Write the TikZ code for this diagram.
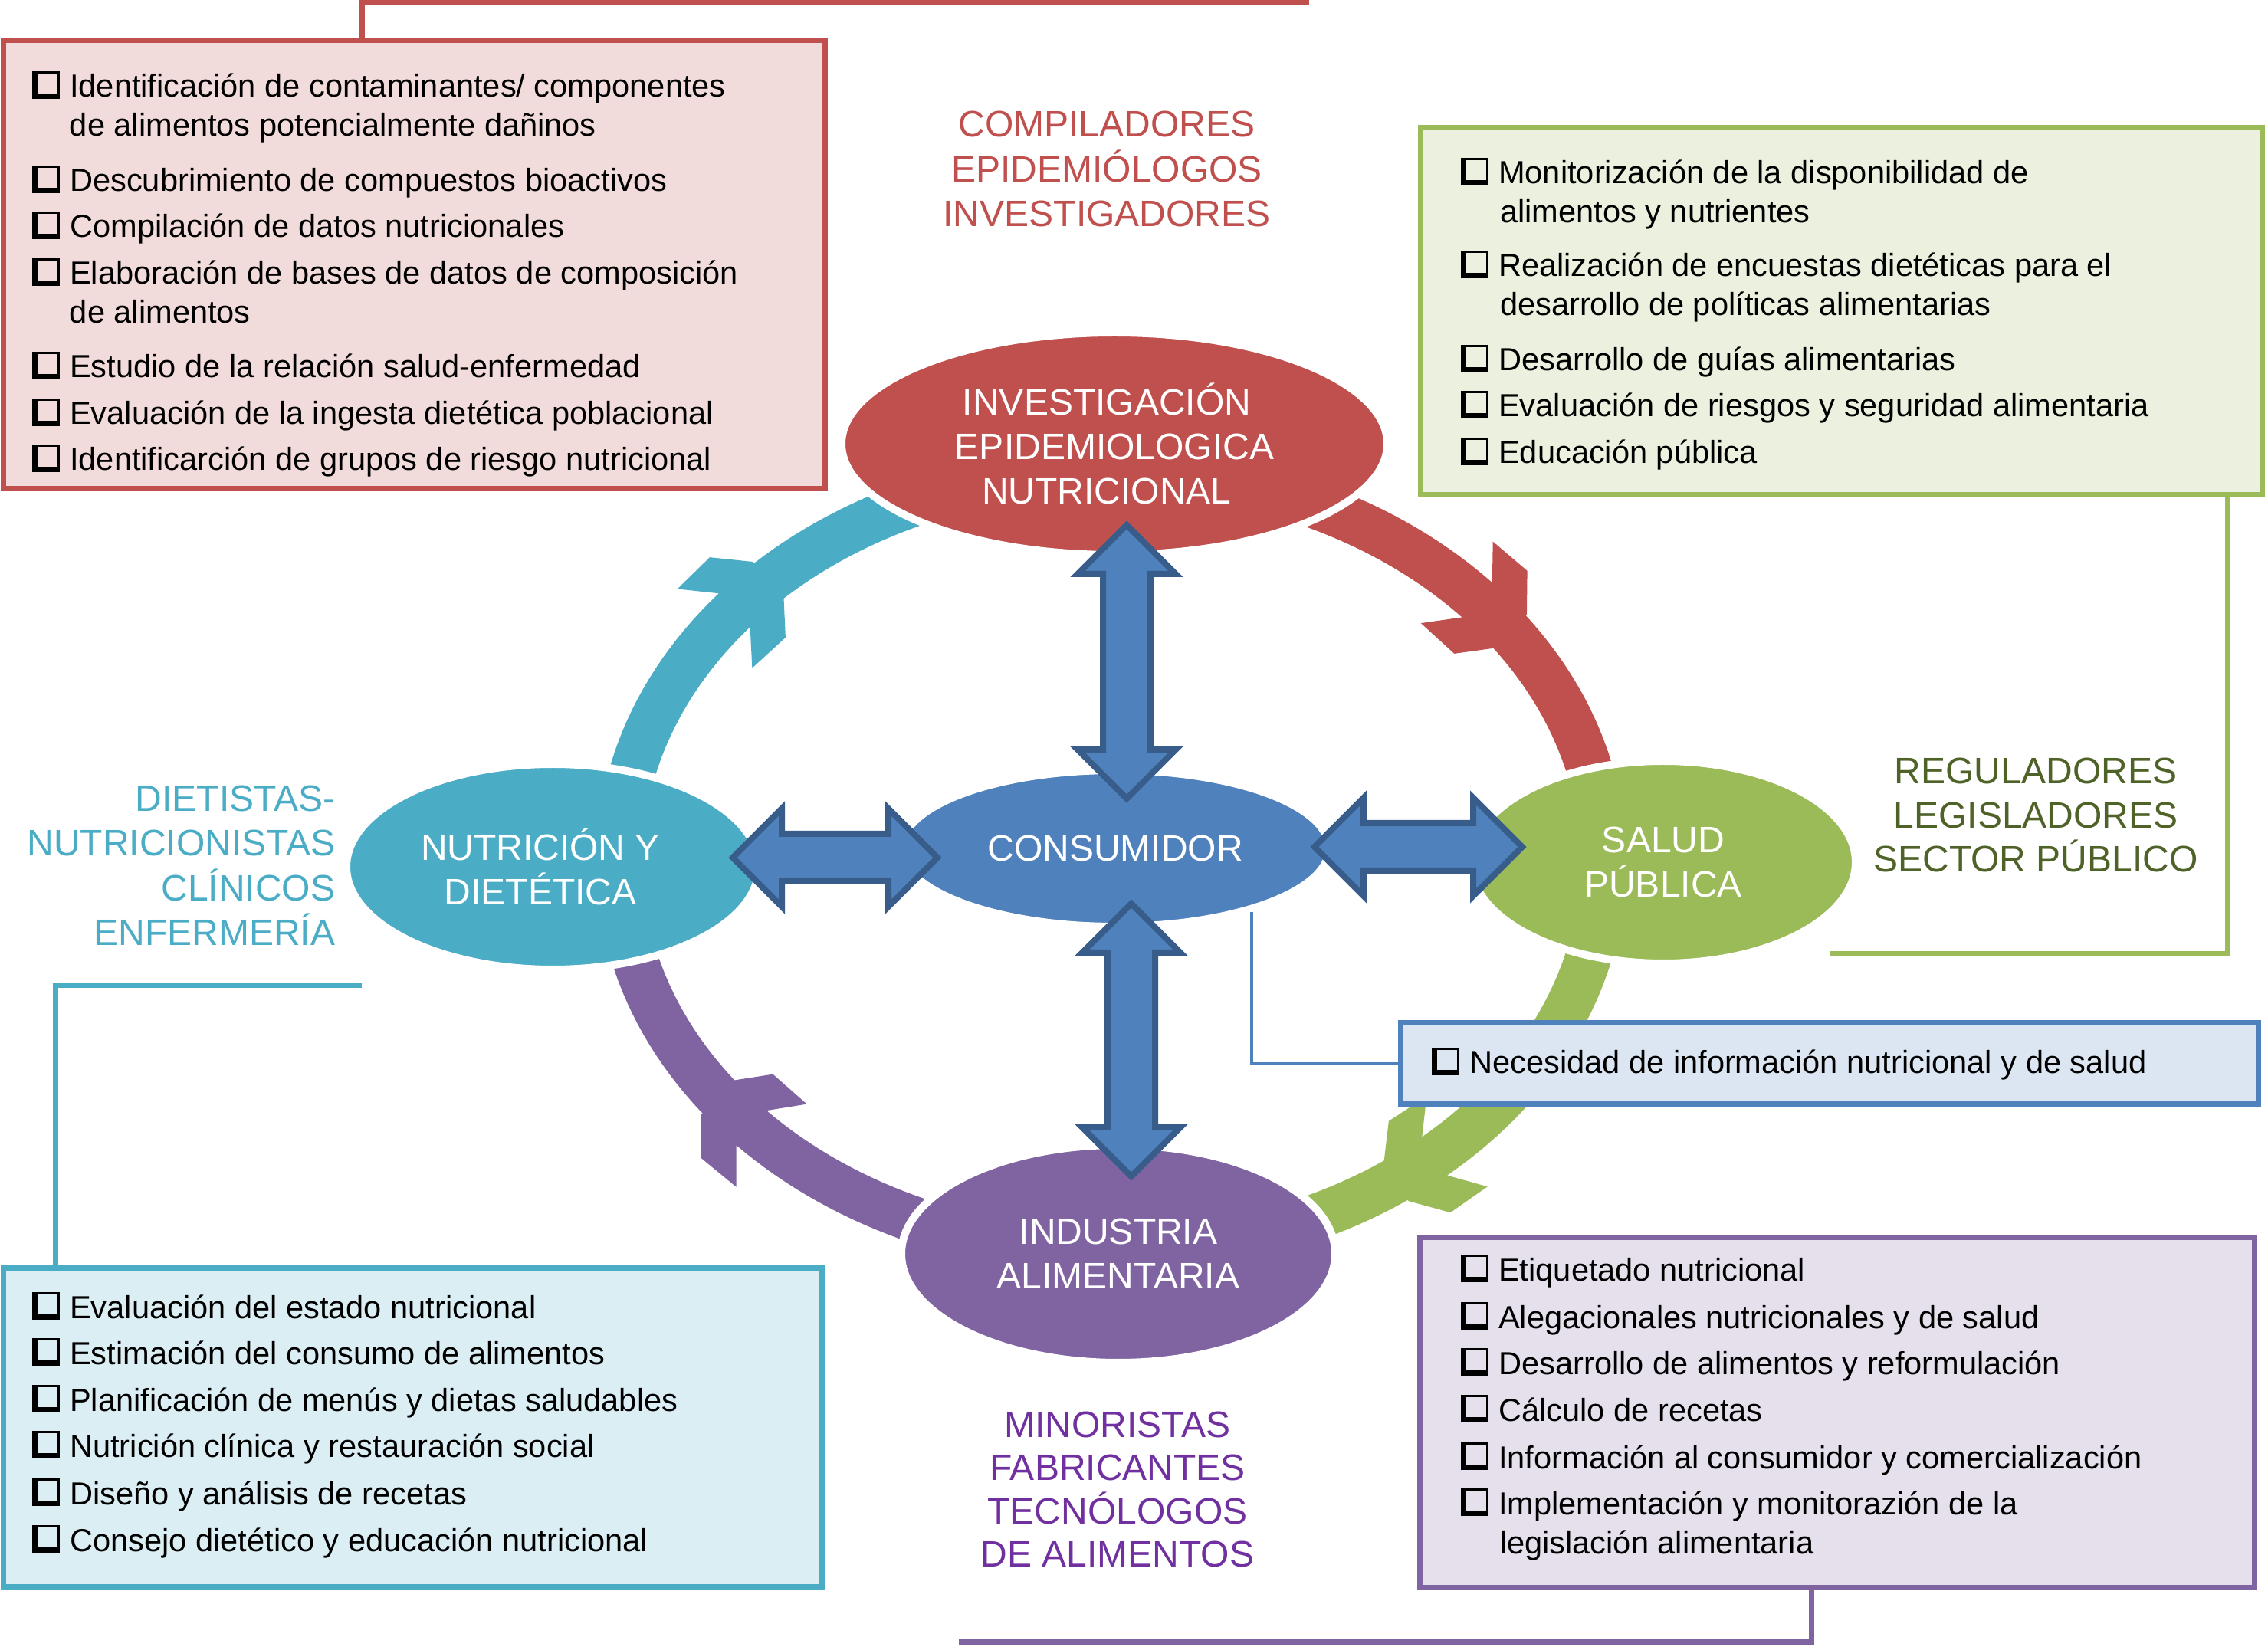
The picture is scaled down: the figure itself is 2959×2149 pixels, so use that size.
\documentclass[tikz,border=0pt]{standalone}
\usepackage{fontspec}
\setmainfont{Liberation Sans}
\usetikzlibrary{calc,shapes.geometric}
\definecolor{cRed}{HTML}{C0504D}
\definecolor{cRedF}{HTML}{F2DCDB}
\definecolor{cGreen}{HTML}{9BBB59}
\definecolor{cGreenF}{HTML}{EBF1DE}
\definecolor{cGreenT}{HTML}{4F6228}
\definecolor{cBlue}{HTML}{4F81BD}
\definecolor{cBlueD}{HTML}{385D8A}
\definecolor{cBlueF}{HTML}{DCE6F2}
\definecolor{cPurple}{HTML}{8064A2}
\definecolor{cPurpleF}{HTML}{E5E0EC}
\definecolor{cPurpleT}{HTML}{7030A0}
\definecolor{cCyan}{HTML}{4BACC6}
\definecolor{cCyanF}{HTML}{DBEEF4}
\newcommand{\cbx}{\makebox[9pt][l]{\rlap{\rule[-0.5pt]{1.7pt}{8.9pt}}\rlap{\rule[-0.5pt]{9pt}{1.7pt}}\rlap{\rule[7.7pt]{9pt}{0.7pt}}\rlap{\hspace{8.3pt}\rule[-0.5pt]{0.7pt}{8.9pt}}}}
\newcommand{\itm}[4]{\node[itm] (#1) at (#2,#3) {\cbx\hspace{3.3pt}#4};}
\newcommand{\cnt}[4]{\node[itm] (#1) at (#2,#3) {#4};}
\newcommand{\ahead}[4]{\fill[#1, shift={(#2,#3)}, rotate=#4] (0,30) -- (-35,71) -- (24,72) -- (61,29) -- (61,-29) -- (24,-72) -- (-35,-71) -- (0,-30) -- cycle;}
\newcommand{\vdarr}[3]{\filldraw[dblarr] (#1,#2) -- ({#1+64},{#2+64}) -- ({#1+31},{#2+64}) -- ({#1+31},{#3-64}) -- ({#1+64},{#3-64}) -- (#1,#3) -- ({#1-64},{#3-64}) -- ({#1-31},{#3-64}) -- ({#1-31},{#2+64}) -- ({#1-64},{#2+64}) -- cycle;}
\newcommand{\hdarr}[3]{\filldraw[dblarr] (#2,#1) -- ({#2+64},{#1-64}) -- ({#2+64},{#1-31}) -- ({#3-64},{#1-31}) -- ({#3-64},{#1-64}) -- (#3,#1) -- ({#3-64},{#1+64}) -- ({#3-64},{#1+31}) -- ({#2+64},{#1+31}) -- ({#2+64},{#1+64}) -- cycle;}
\tikzset{
 bx/.style={rectangle, inner sep=0pt, outer sep=0pt, line width=1.75pt},
 itm/.style={anchor=base west, inner sep=0pt, outer sep=0pt, font=\fontsize{10.4}{12.4}\selectfont},
 ttl/.style={anchor=base, inner sep=0pt, font=\fontsize{12}{14.5}\selectfont},
 ell/.style={ellipse, draw=white, line width=2.5pt, inner sep=0pt, text=white, align=center, font=\fontsize{12}{14.6}\selectfont},
 dblarr/.style={fill=cBlue, draw=cBlueD, line width=2pt, line join=miter},
 ring/.style={line width=15pt},
 con/.style={line width=1.75pt}
}
\begin{document}
\begin{tikzpicture}[x=0.25pt,y=-0.25pt]
\useasboundingbox (0,0) rectangle (2959,2149);
\fill[white] (0,0) rectangle (2959,2149);

% ring arcs
\draw[ring, cCyan] plot[domain=180:270, samples=60] ({1450+642*cos(\x)},{1124+510*sin(\x)});
\draw[ring, cRed] plot[domain=270:360, samples=60] ({1450+642*cos(\x)},{1124+510*sin(\x)});
\draw[ring, cGreen] plot[domain=0:90, samples=60] ({1450+642*cos(\x)},{1124+510*sin(\x)});
\draw[ring, cPurple] plot[domain=90:180, samples=60] ({1450+642*cos(\x)},{1124+510*sin(\x)});
\ahead{cCyan}{958}{796}{43.4}
\ahead{cRed}{1927}{783}{-41.4}
\ahead{cGreen}{1872}{1509}{214}
\ahead{cPurple}{980}{1472}{139.6}

% ellipses
\node[ell, fill=cRed, minimum width=178pt, minimum height=72.5pt] (inv) at (1454,579) {INVESTIGACIÓN\hspace*{5pt}\\EPIDEMIOLOGICA\hspace*{5pt}\\NUTRICIONAL\hspace*{5pt}};
\node[ell, fill=cBlue, minimum width=139.5pt, minimum height=51pt] (cons) at (1455,1107) {CONSUMIDOR};
\node[ell, fill=cCyan, minimum width=134.5pt, minimum height=67pt] (nut) at (721,1131) {NUTRICIÓN Y\hspace*{8pt}\\DIETÉTICA\hspace*{8pt}};
\node[ell, fill=cGreen, minimum width=125.5pt, minimum height=66pt] (sal) at (2170,1125) {SALUD\\PÚBLICA};
\node[ell, fill=cPurple, minimum width=141.5pt, minimum height=71pt] (ind) at (1459,1636) {INDUSTRIA\\ALIMENTARIA};

% double arrows
\vdarr{1470}{685}{1042}
\vdarr{1476}{1179}{1535}
\hdarr{1119}{956}{1223}
\hdarr{1105}{1715}{1986}

% boxes
\node[bx, draw=cRed, fill=cRedF, minimum width=268pt, minimum height=146.25pt] (redbox) at (540,345.5) {};
\node[bx, draw=cGreen, fill=cGreenF, minimum width=274.5pt, minimum height=119.75pt] (greenbox) at (2402,406.5) {};
\node[bx, draw=cBlue, fill=cBlueF, minimum width=279.75pt, minimum height=26.5pt] (need) at (2386.5,1388) {};
\node[bx, draw=cPurple, fill=cPurpleF, minimum width=272.25pt, minimum height=114.25pt] (purpbox) at (2396.5,1842.5) {};
\node[bx, draw=cCyan, fill=cCyanF, minimum width=267pt, minimum height=104pt] (cyanbox) at (538,1862) {};

% connectors
\coordinate (redend) at (1708,4);
\coordinate (greenend) at (2387,1245);
\coordinate (cyanend) at (472,1286);
\coordinate (purpend) at (1251,2142);
\draw[con, cRed] ($(redbox.north west)+(468,0)$) |- (redend);
\draw[con, cGreen] ($(greenbox.south west)+(1053,0)$) |- (greenend);
\draw[con, cCyan] ($(cyanbox.north west)+(68,0)$) |- (cyanend);
\draw[con, cPurple] ($(purpbox.south west)+(511,0)$) |- (purpend);
\draw[line width=1pt, cBlue] (cons.-25) |- (need.west);

% red box items
\itm{r1}{42}{127}{Identificación de contaminantes/ componentes}
\cnt{r1b}{91}{178}{de alimentos potencialmente dañinos}
\itm{r2}{42}{250}{Descubrimiento de compuestos bioactivos}
\itm{r3}{42}{310}{Compilación de datos nutricionales}
\itm{r4}{42}{371}{Elaboración de bases de datos de composición}
\cnt{r4b}{91}{422}{de alimentos}
\itm{r5}{42}{493}{Estudio de la relación salud-enfermedad}
\itm{r6}{42}{554}{Evaluación de la ingesta dietética poblacional}
\itm{r7}{42}{614}{Identificarción de grupos de riesgo nutricional}

% green box items
\itm{g1}{1906}{240}{Monitorización de la disponibilidad de}
\cnt{g1b}{1957}{291}{alimentos y nutrientes}
\itm{g2}{1906}{361}{Realización de encuestas dietéticas para el}
\cnt{g2b}{1957}{412}{desarrollo de políticas alimentarias}
\itm{g3}{1906}{484}{Desarrollo de guías alimentarias}
\itm{g4}{1906}{544}{Evaluación de riesgos y seguridad alimentaria}
\itm{g5}{1906}{605}{Educación pública}

% blue box item
\itm{n1}{1868}{1401}{Necesidad de información nutricional y de salud}

% purple box items
\itm{p1}{1906}{1671}{Etiquetado nutricional}
\itm{p2}{1906}{1733}{Alegacionales nutricionales y de salud}
\itm{p3}{1906}{1793}{Desarrollo de alimentos y reformulación}
\itm{p4}{1906}{1854}{Cálculo de recetas}
\itm{p5}{1906}{1916}{Información al consumidor y comercialización}
\itm{p6}{1906}{1976}{Implementación y monitorazión de la}
\cnt{p6b}{1957}{2027}{legislación alimentaria}

% cyan box items
\itm{c1}{42}{1720}{Evaluación del estado nutricional}
\itm{c2}{42}{1780}{Estimación del consumo de alimentos}
\itm{c3}{42}{1841}{Planificación de menús y dietas saludables}
\itm{c4}{42}{1901}{Nutrición clínica y restauración social}
\itm{c5}{42}{1963}{Diseño y análisis de recetas}
\itm{c6}{42}{2024}{Consejo dietético y educación nutricional}

% titles
\node[ttl, text=cRed] (ta1) at (1444,179) {COMPILADORES};
\node[ttl, text=cRed] (ta2) at (1444,238) {EPIDEMIÓLOGOS};
\node[ttl, text=cRed] (ta3) at (1444,296) {INVESTIGADORES};
\node[ttl, text=cGreenT] (tb1) at (2656,1023) {REGULADORES};
\node[ttl, text=cGreenT] (tb2) at (2656,1081) {LEGISLADORES};
\node[ttl, text=cGreenT] (tb3) at (2656,1138) {SECTOR PÚBLICO};
\node[ttl, text=cCyan, anchor=base east] (tc1) at (438,1059) {DIETISTAS-};
\node[ttl, text=cCyan, anchor=base east] (tc2) at (438,1117) {NUTRICIONISTAS};
\node[ttl, text=cCyan, anchor=base east] (tc3) at (438,1176) {CLÍNICOS};
\node[ttl, text=cCyan, anchor=base east] (tc4) at (438,1234) {ENFERMERÍA};
\node[ttl, text=cPurpleT] (td1) at (1458,1875) {MINORISTAS};
\node[ttl, text=cPurpleT] (td2) at (1458,1931) {FABRICANTES};
\node[ttl, text=cPurpleT] (td3) at (1458,1988) {TECNÓLOGOS};
\node[ttl, text=cPurpleT] (td4) at (1458,2044) {DE ALIMENTOS};
\end{tikzpicture}
\end{document}
